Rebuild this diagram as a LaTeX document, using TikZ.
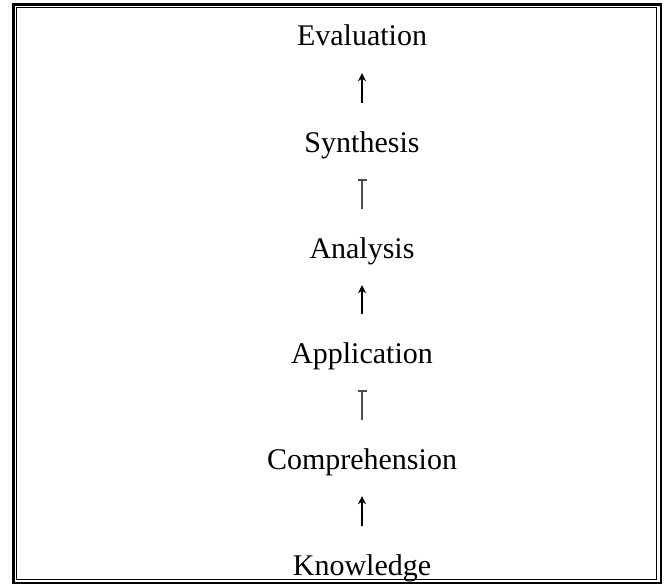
\documentclass[tikz,border=0pt]{standalone}
\usepackage{fontspec}
\setmainfont{Liberation Serif}
\usetikzlibrary{arrows.meta}
\tikzset{%
    Level node/.style={%
        anchor=base,
        inner sep=0pt,
        text height=20pt,
        text depth=6pt
    },
    Level arrow/.style={%
        -{Stealth[length=8pt,width=8pt]},
        line width=2.2pt,
        shorten <=29pt,
        shorten >=21pt
    },
    Level bar/.style={%
        -{Bar[width=9pt,line width=1.6pt]},
        line width=1.2pt,
        black!70,
        shorten <=29pt,
        shorten >=21pt
    }
}

\begin{document}
\begin{tikzpicture}[x=1pt,y=-1pt]
\fontsize{30}{36}\selectfont
\useasboundingbox (0,0) rectangle (670,586);

% double frame
\draw[line width=2.7pt] (13.5,4.5) rectangle (661,583);
\draw[line width=1pt] (16.5,7.7) rectangle (656.5,579.5);

% levels
\node[Level node] (eval)  at (362,46)  {Evaluation};
\node[Level node] (synth) at (362,152) {Synthesis};
\node[Level node] (anal)  at (362,258) {Analysis};
\node[Level node] (appl)  at (362,363) {Application};
\node[Level node] (comp)  at (362,469) {Comprehension};
\node[Level node] (know)  at (362,575) {Knowledge};

\draw[Level arrow] (know)  -- (comp) ;
\draw[Level bar]   (comp)  -- (appl) ;
\draw[Level arrow] (appl)  -- (anal) ;
\draw[Level bar]   (anal)  -- (synth) ;
\draw[Level arrow] (synth) -- (eval) ;

\end{tikzpicture}
\end{document}
